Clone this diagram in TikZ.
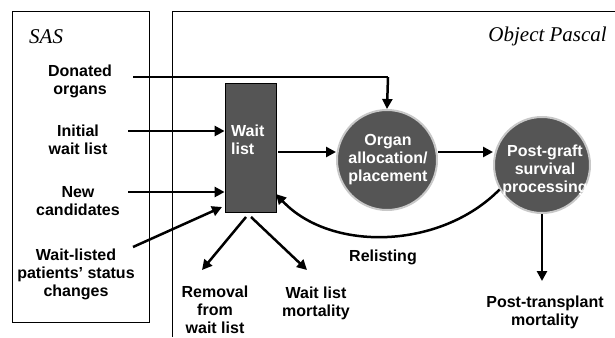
\documentclass[tikz,border=0pt]{standalone}
\usepackage{fontspec}
\setmainfont{Liberation Sans}
\newfontfamily\serifit{Liberation Serif}
\usetikzlibrary{arrows.meta}
\definecolor{boxgray}{HTML}{555555}
\definecolor{ringgray}{HTML}{C8C8C8}
\begin{document}
\begin{tikzpicture}[x=1pt,y=-1pt,
  lbl/.style={font=\fontsize{16}{18}\selectfont\bfseries, align=center, inner sep=0pt},
  wlbl/.style={lbl, text=white},
  arr/.style={line width=2.5pt, -{Triangle[length=10pt,width=10pt]}},
  ln/.style={line width=2.5pt},
  proc/.style={circle, fill=boxgray, draw=ringgray, line width=2pt, minimum size=#1, inner sep=0pt},
  frame/.style={line width=0.9pt},
  title/.style={font=\serifit\itshape\fontsize{21}{23}\selectfont, inner sep=0pt}]
\useasboundingbox (0,0) rectangle (615,337);
% frames
\draw[frame] (12,11) rectangle (149,322);
\draw[frame] (172,337) -- (172,11) -- (615,11);
\node[title, anchor=west] (sas) at (29,37) {SAS};
\node[title, anchor=east] (op) at (607,36) {Object Pascal};
% wait list box
\node[draw=black, fill=boxgray, line width=0.8pt, minimum width=51pt, minimum height=129pt, inner sep=0pt] (wl) at (250.5,147.5) {};
\node[wlbl, align=left, anchor=west] (wlt) at (231,140) {Wait\\list};
% circles
\node[proc=100pt] (org) at (387,160) {};
\node[wlbl] (orgt) at (388,160) {Organ\\allocation/\\placement};
\node[proc=96pt] (pg) at (542,165) {};
\node[wlbl] (pgt) at (545,170) {Post-graft\\survival\\processing};
% left labels
\node[lbl] (don) at (80,81) {Donated\\organs};
\node[lbl] (init) at (78,140) {Initial\\wait list};
\node[lbl] (new) at (78,201) {New\\candidates};
\node[lbl] (wls) at (76,274) {Wait-listed\\patients' status\\changes};
% bottom labels
\node[lbl] (rem) at (215,310) {Removal\\from\\wait list};
\node[lbl] (wlm) at (316,303) {Wait list\\mortality};
\node[lbl] (rel) at (383,257) {Relisting};
\node[lbl] (ptm) at (545,312) {Post-transplant\\mortality};
% coordinates
\coordinate (donS) at (133,77);
\coordinate (donC) at (388,77);
\coordinate (initS) at (128,131);
\coordinate (newS) at (128,192);
\coordinate (wlsS) at (133,247);
% connectors
\draw[ln] (donS) -- (donC);
\draw[arr] (donC) -- (org.north);
\draw[arr] (initS) -- (initS -| wl.west);
\draw[arr] (newS) -- (newS -| wl.west);
\draw[arr] (wlsS) -- (222,207);
\draw[arr] (278,152) -- (org.west |- 0,152);
\draw[arr] (org.east |- 0,152) -- (pg.west |- 0,152);
\draw[arr] (pg.south) -- (542,281);
\draw[arr] (246,217) -- (202,270);
\draw[arr] (251,217) -- (307,270);
\draw[arr] (pg.210) .. controls (440,250) and (330,252) .. (276,194);
\end{tikzpicture}
\end{document}
